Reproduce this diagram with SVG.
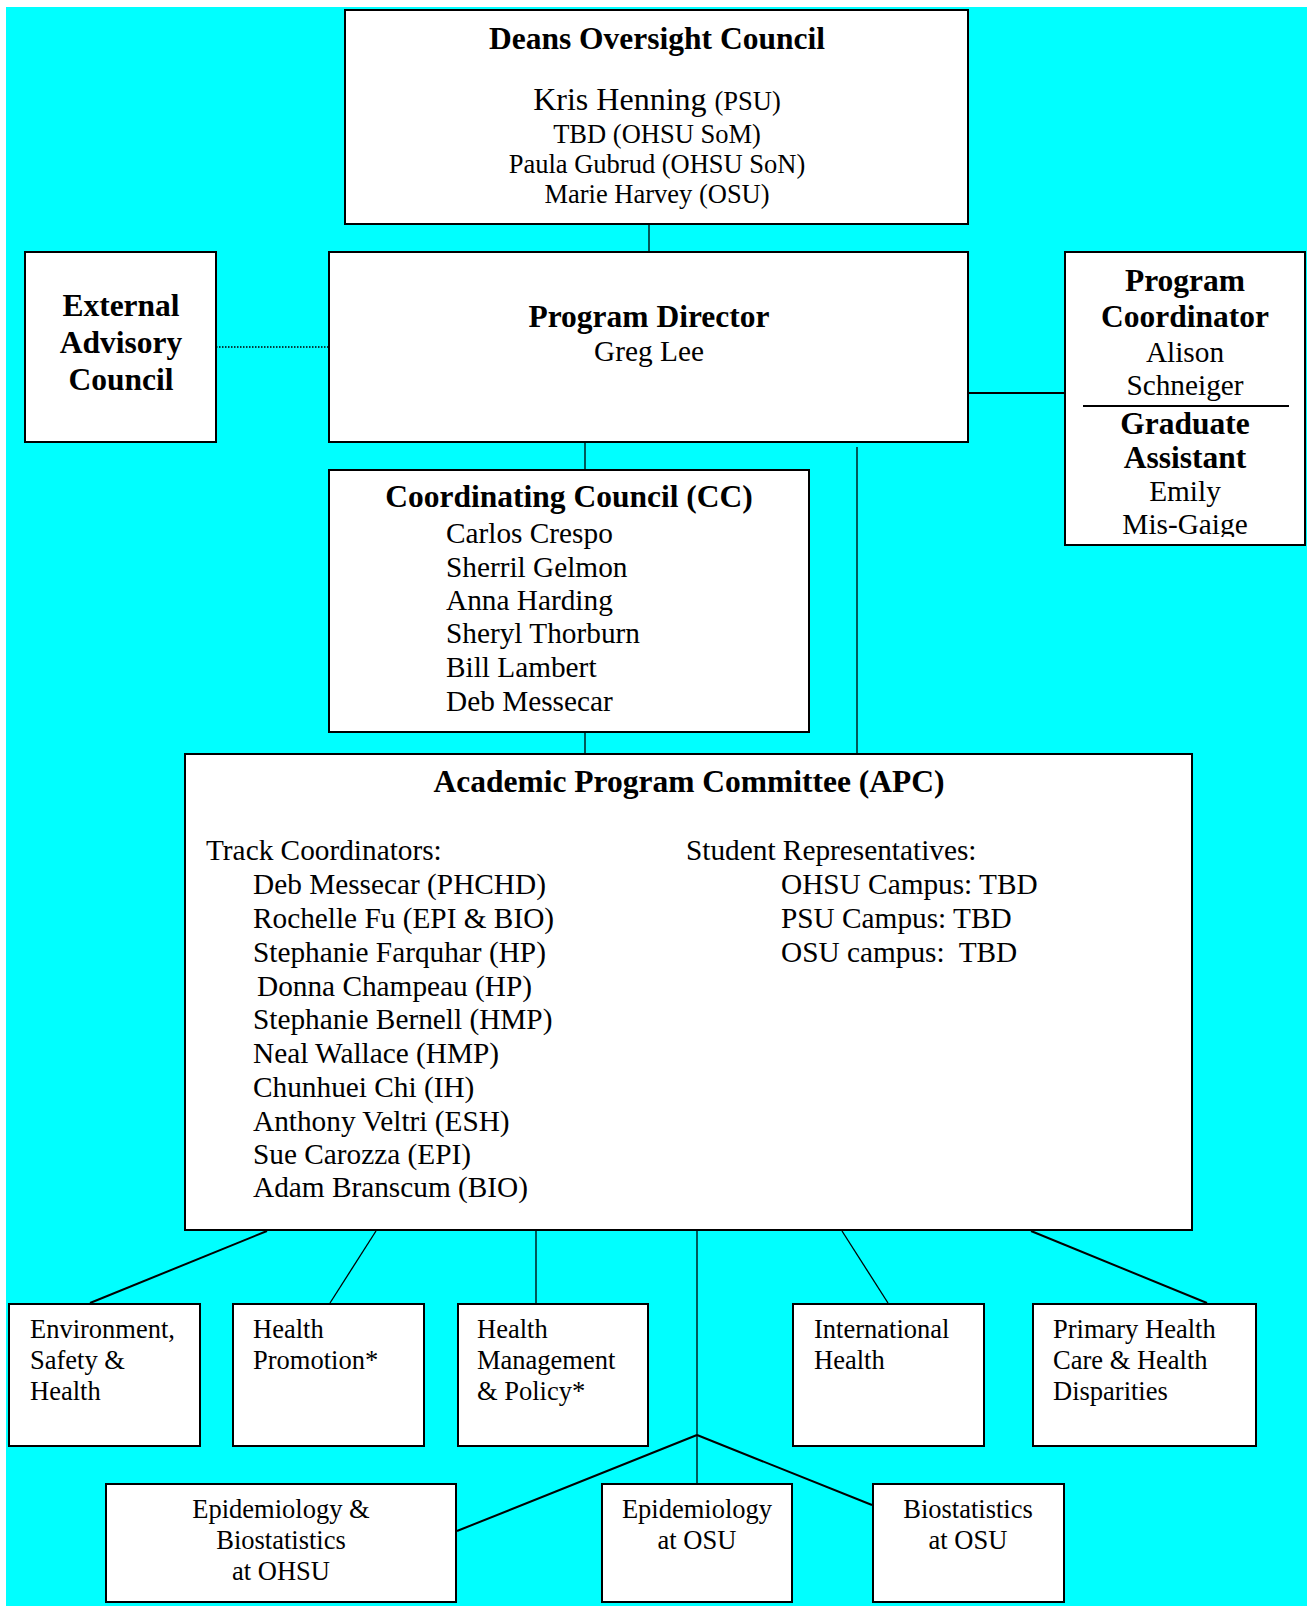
<svg xmlns="http://www.w3.org/2000/svg" width="1307" height="1606" viewBox="0 0 1307 1606">
<style>
.box{fill:#fff;stroke:#000;stroke-width:2}
text{font-family:"Liberation Serif","Times New Roman",serif;fill:#000}
.h{font-weight:bold;font-size:31.5px}
.c{text-anchor:middle}
.n{font-size:29.3px}
.s{font-size:26.5px}
.ln{stroke:#000;stroke-width:1.3;fill:none}
.lt{stroke:#000;stroke-width:2;fill:none}
</style>
<defs>
<clipPath id="pcclip"><rect x="1066" y="252" width="238" height="285"/></clipPath>
</defs>
<rect x="0" y="0" width="1307" height="1606" fill="#fff"/>
<rect x="6" y="7" width="1301" height="1599" fill="#00ffff"/>

<g id="connectors">
<line class="ln" x1="649" y1="225" x2="649" y2="297"/>
<line x1="216" y1="347" x2="328" y2="347" stroke="#000" stroke-width="1.5" stroke-dasharray="1.5,1.5"/>
<line class="lt" x1="969" y1="393" x2="1065" y2="393"/>
<line class="ln" x1="585" y1="443" x2="585" y2="469"/>
<line class="ln" x1="857" y1="447" x2="857" y2="753"/>
<line class="ln" x1="585" y1="732" x2="585" y2="753"/>
<line class="lt" x1="267" y1="1231" x2="90" y2="1303"/>
<line class="ln" x1="376" y1="1231" x2="330" y2="1303"/>
<line class="ln" x1="536" y1="1231" x2="536" y2="1303"/>
<line class="ln" x1="697" y1="1231" x2="697" y2="1483"/>
<line class="ln" x1="842" y1="1231" x2="888" y2="1303"/>
<line class="lt" x1="1031" y1="1231" x2="1207" y2="1303"/>
<line class="lt" x1="697" y1="1435" x2="457" y2="1531"/>
<line class="lt" x1="697" y1="1435" x2="872" y2="1505"/>
</g>

<g id="deans">
<rect class="box" x="345" y="10" width="623" height="214"/>
<text class="h c" x="657" y="49">Deans Oversight Council</text>
<text class="c" x="657" y="110"><tspan font-size="32">Kris Henning </tspan><tspan font-size="26.5">(PSU)</tspan></text>
<text class="s c" x="657" y="143">TBD (OHSU SoM)</text>
<text class="s c" x="657" y="173">Paula Gubrud (OHSU SoN)</text>
<text class="s c" x="657" y="203">Marie Harvey (OSU)</text>
</g>

<g id="external-advisory">
<rect class="box" x="25" y="252" width="191" height="190"/>
<text class="h c" x="121" y="316">External</text>
<text class="h c" x="121" y="353">Advisory</text>
<text class="h c" x="121" y="390">Council</text>
</g>

<g id="program-director">
<rect class="box" x="329" y="252" width="639" height="190"/>
<text class="h c" x="649" y="327">Program Director</text>
<text class="n c" x="649" y="361">Greg Lee</text>
</g>

<g id="program-coordinator">
<rect class="box" x="1065" y="252" width="240" height="293"/>
<g clip-path="url(#pcclip)">
<text class="h c" x="1185" y="291">Program</text>
<text class="h c" x="1185" y="327">Coordinator</text>
<text class="n c" x="1185" y="362">Alison</text>
<text class="n c" x="1185" y="395">Schneiger</text>
<line class="lt" x1="1083" y1="406" x2="1289" y2="406"/>
<text class="h c" x="1185" y="434">Graduate</text>
<text class="h c" x="1185" y="468">Assistant</text>
<text class="n c" x="1185" y="501">Emily</text>
<text class="n c" x="1185" y="534">Mis-Gaige</text>
</g>
</g>

<g id="coordinating-council">
<rect class="box" x="329" y="470" width="480" height="262"/>
<text class="h c" x="569" y="507">Coordinating Council (CC)</text>
<text class="n" x="446" y="543">Carlos Crespo</text>
<text class="n" x="446" y="577">Sherril Gelmon</text>
<text class="n" x="446" y="610">Anna Harding</text>
<text class="n" x="446" y="643">Sheryl Thorburn</text>
<text class="n" x="446" y="677">Bill Lambert</text>
<text class="n" x="446" y="711">Deb Messecar</text>
</g>

<g id="apc">
<rect class="box" x="185" y="754" width="1007" height="476"/>
<text class="h c" x="689" y="792">Academic Program Committee (APC)</text>
<text class="n" x="206" y="860">Track Coordinators:</text>
<text class="n" x="253" y="894">Deb Messecar (PHCHD)</text>
<text class="n" x="253" y="928">Rochelle Fu (EPI &amp; BIO)</text>
<text class="n" x="253" y="962">Stephanie Farquhar (HP)</text>
<text class="n" x="257" y="996">Donna Champeau (HP)</text>
<text class="n" x="253" y="1029">Stephanie Bernell (HMP)</text>
<text class="n" x="253" y="1063">Neal Wallace (HMP)</text>
<text class="n" x="253" y="1097">Chunhuei Chi (IH)</text>
<text class="n" x="253" y="1131">Anthony Veltri (ESH)</text>
<text class="n" x="253" y="1164">Sue Carozza (EPI)</text>
<text class="n" x="253" y="1197">Adam Branscum (BIO)</text>
<text class="n" x="686" y="860">Student Representatives:</text>
<text class="n" x="781" y="894">OHSU Campus: TBD</text>
<text class="n" x="781" y="928">PSU Campus: TBD</text>
<text class="n" x="781" y="962" xml:space="preserve">OSU campus:  TBD</text>
</g>

<g id="esh">
<rect class="box" x="9" y="1304" width="191" height="142"/>
<text class="s" x="30" y="1338">Environment,</text>
<text class="s" x="30" y="1369">Safety &amp;</text>
<text class="s" x="30" y="1400">Health</text>
</g>

<g id="hp">
<rect class="box" x="233" y="1304" width="191" height="142"/>
<text class="s" x="253" y="1338">Health</text>
<text class="s" x="253" y="1369">Promotion*</text>
</g>

<g id="hmp">
<rect class="box" x="458" y="1304" width="190" height="142"/>
<text class="s" x="477" y="1338">Health</text>
<text class="s" x="477" y="1369">Management</text>
<text class="s" x="477" y="1400">&amp; Policy*</text>
</g>

<g id="ih">
<rect class="box" x="793" y="1304" width="191" height="142"/>
<text class="s" x="814" y="1338">International</text>
<text class="s" x="814" y="1369">Health</text>
</g>

<g id="phc">
<rect class="box" x="1033" y="1304" width="223" height="142"/>
<text class="s" x="1053" y="1338">Primary Health</text>
<text class="s" x="1053" y="1369">Care &amp; Health</text>
<text class="s" x="1053" y="1400">Disparities</text>
</g>

<g id="epi-bio-ohsu">
<rect class="box" x="106" y="1484" width="350" height="118"/>
<text class="s c" x="281" y="1518">Epidemiology &amp;</text>
<text class="s c" x="281" y="1549">Biostatistics</text>
<text class="s c" x="281" y="1580">at OHSU</text>
</g>

<g id="epi-osu">
<rect class="box" x="602" y="1484" width="190" height="118"/>
<text class="s c" x="697" y="1518">Epidemiology</text>
<text class="s c" x="697" y="1549">at OSU</text>
</g>

<g id="bio-osu">
<rect class="box" x="873" y="1484" width="191" height="118"/>
<text class="s c" x="968" y="1518">Biostatistics</text>
<text class="s c" x="968" y="1549">at OSU</text>
</g>
</svg>
